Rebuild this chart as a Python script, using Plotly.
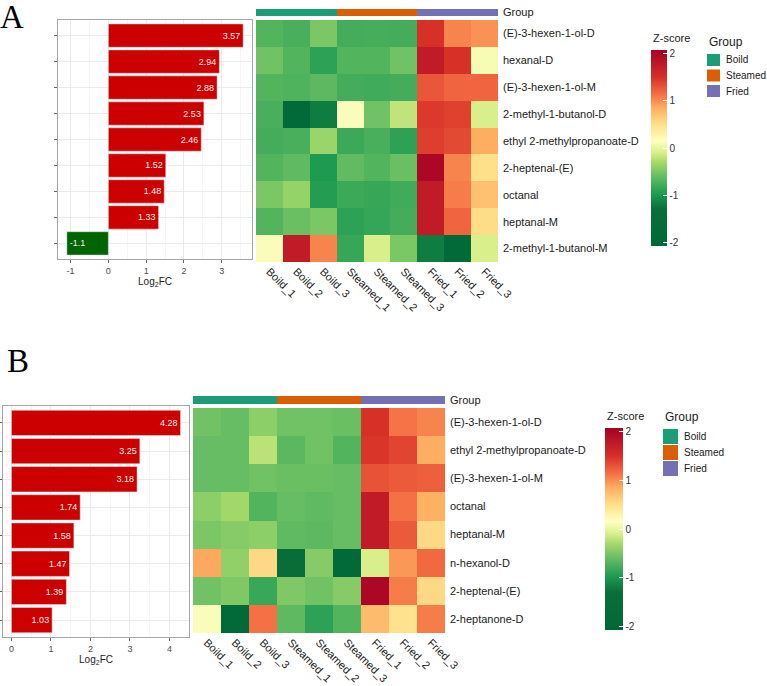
import plotly.graph_objects as go

W, H = 767, 686

samples = ["Boild_1", "Boild_2", "Boild_3", "Steamed_1", "Steamed_2", "Steamed_3",
           "Fried_1", "Fried_2", "Fried_3"]
sample_group = [0, 0, 0, 1, 1, 1, 2, 2, 2]
groups = ["Boild", "Steamed", "Fried"]
z_ticks = [2, 1, 0, -1, -2]

# panel A
compounds_a = ["(E)-3-hexen-1-ol-D", "hexanal-D", "(E)-3-hexen-1-ol-M", "2-methyl-1-butanol-D",
               "ethyl 2-methylpropanoate-D", "2-heptenal-(E)", "octanal", "heptanal-M",
               "2-methyl-1-butanol-M"]
log2fc_a = [3.57, 2.94, 2.88, 2.53, 2.46, 1.52, 1.48, 1.33, -1.1]
fc_ticks_a = [-1, 0, 1, 2, 3]
zscore_a = [
    [-0.70, -0.75, -0.50, -0.78, -0.77, -0.78, 1.50, 1.05, 0.98],
    [-0.55, -0.70, -0.90, -0.70, -0.70, -0.55, 1.75, 1.50, 0.10],
    [-0.70, -0.72, -0.65, -0.78, -0.80, -0.78, 1.28, 1.20, 1.20],
    [-0.75, -1.90, -1.20, 0.12, -0.55, -0.20, 1.45, 1.40, -0.10],
    [-0.78, -0.75, -0.35, -0.82, -0.75, -0.90, 1.42, 1.35, 0.85],
    [-0.70, -0.63, -0.98, -0.62, -0.70, -0.58, 2.00, 1.05, 0.50],
    [-0.50, -0.38, -0.95, -0.82, -0.85, -0.80, 1.75, 1.08, 0.72],
    [-0.70, -0.58, -0.50, -0.90, -0.86, -0.78, 1.75, 1.20, 0.52],
    [0.12, 1.75, 1.05, -0.85, -0.10, -0.50, -1.20, -1.90, -0.10],
]

# panel B
compounds_b = ["(E)-3-hexen-1-ol-D", "ethyl 2-methylpropanoate-D", "(E)-3-hexen-1-ol-M", "octanal",
               "heptanal-M", "n-hexanol-D", "2-heptenal-(E)", "2-heptanone-D"]
log2fc_b = [4.28, 3.25, 3.18, 1.74, 1.58, 1.47, 1.39, 1.03]
fc_ticks_b = [0, 1, 2, 3, 4]
zscore_b = [
    [-0.55, -0.60, -0.42, -0.55, -0.55, -0.58, 1.50, 1.12, 1.05],
    [-0.60, -0.60, -0.22, -0.66, -0.55, -0.70, 1.47, 1.38, 0.85],
    [-0.60, -0.60, -0.55, -0.58, -0.58, -0.60, 1.30, 1.26, 1.23],
    [-0.42, -0.32, -0.70, -0.60, -0.63, -0.60, 1.75, 1.13, 0.83],
    [-0.50, -0.45, -0.42, -0.63, -0.65, -0.60, 1.75, 1.26, 0.55],
    [0.88, -0.40, 0.55, -1.40, -0.45, -1.90, -0.10, 0.95, 1.18],
    [-0.55, -0.48, -0.84, -0.48, -0.55, -0.45, 2.00, 1.08, 0.55],
    [0.12, -1.90, 1.13, -0.64, -0.90, -0.70, 0.75, 0.48, 1.08],
]

group_colors = ["#1B9E77", "#D95F02", "#7570B3"]
ZLIM = 2.08
stops = [(-2.08, "#006837"), (-1.3, "#0a6e3a"), (-1.0, "#1a9850"), (-0.6, "#66bd63"),
         (-0.3, "#a6d96a"), (-0.1, "#d9ef8b"), (0.15, "#ffffbf"), (0.5, "#fee08b"),
         (0.85, "#fdae61"), (1.15, "#f46d43"), (1.5, "#d73027"), (2.08, "#a50026")]
zscale = [[(z + ZLIM) / (2 * ZLIM), c] for z, c in stops]
FONT = "Liberation Sans, Arial, sans-serif"


def px(x):
    return x / W


def py(y):
    return 1 - y / H


fig = go.Figure()
annotations = []
shapes = []


def panel(n, compounds, fc, fc_ticks, zs, bar_box, xr, hm_box, grp_box, cb, leg):
    bx, by, hx, hy, gx, gy = [f"x{n}", f"y{n}", f"x{n+1}", f"y{n+1}", f"x{n+2}", f"y{n+2}"]
    fig.add_trace(go.Bar(
        x=fc, y=compounds, orientation="h", width=0.9,
        marker_color=["#CD0000" if v > 0 else "#006400" for v in fc],
        text=[f"{v:g}" for v in fc], textposition="inside", insidetextanchor="end",
        textfont=dict(size=9, color="#f2f2f2", family=FONT), cliponaxis=False,
        xaxis=bx, yaxis=by, showlegend=False))
    fig.add_trace(go.Heatmap(
        z=zs, x=samples, y=compounds, zmin=-ZLIM, zmax=ZLIM, colorscale=zscale,
        xaxis=hx, yaxis=hy,
        colorbar=dict(x=px(cb[0]), xanchor="left", xpad=0, ypad=0, y=py(cb[1]),
                      yanchor="top", lenmode="pixels", len=cb[2], thickness=cb[3],
                      outlinewidth=0, tickvals=z_ticks, ticktext=[str(t) for t in z_ticks],
                      ticks="inside", ticklen=4, tickcolor="white",
                      tickfont=dict(size=10, color="#333333", family=FONT))))
    fig.add_trace(go.Heatmap(
        z=[sample_group], x=samples, y=["Group"], zmin=0, zmax=2,
        colorscale=[[0, group_colors[0]], [0.33, group_colors[0]], [0.34, group_colors[1]],
                    [0.66, group_colors[1]], [0.67, group_colors[2]], [1, group_colors[2]]],
        showscale=False, xaxis=gx, yaxis=gy))
    nb = len(compounds)
    fig.update_layout({
        f"xaxis{n}": dict(domain=[px(bar_box[0]), px(bar_box[1])], range=xr, anchor=by,
                          automargin=False,
                          showline=True, mirror=True, linecolor="#a6a6a6", linewidth=1,
                          showgrid=True, gridcolor="#ebebeb", zeroline=False,
                          tickvals=fc_ticks, ticktext=[str(t) for t in fc_ticks],
                          minor=dict(dtick=0.5, showgrid=True, gridcolor="#f5f5f5"),
                          ticks="outside", ticklen=3, tickcolor="#666666",
                          tickfont=dict(size=9, color="#4d4d4d", family=FONT),
                          title=dict(text="Log<sub>2</sub>FC", standoff=2,
                                     font=dict(size=10, color="#222222", family=FONT))),
        f"yaxis{n}": dict(domain=[py(bar_box[3]), py(bar_box[2])], anchor=bx,
                          automargin=False,
                          range=[nb - 0.4, -0.6], showline=True, mirror=True,
                          linecolor="#a6a6a6", showgrid=True, gridcolor="#ebebeb",
                          showticklabels=False, ticks="outside", ticklen=3,
                          tickcolor="#666666"),
        f"xaxis{n+1}": dict(domain=[px(hm_box[0]), px(hm_box[1])], anchor=hy,
                            automargin=False,
                            tickangle=45, ticks="", showgrid=False, zeroline=False,
                            tickfont=dict(size=11, color="#1a1a1a", family=FONT)),
        f"yaxis{n+1}": dict(domain=[py(hm_box[3]), py(hm_box[2])], anchor=hx, side="right",
                            automargin=False,
                            autorange="reversed", ticks="", showgrid=False,
                            ticklabelstandoff=4,
                            tickfont=dict(size=11, color="#1a1a1a", family=FONT)),
        f"xaxis{n+2}": dict(domain=[px(hm_box[0]), px(hm_box[1])], anchor=gy,
                            automargin=False,
                            showticklabels=False, ticks="", showgrid=False),
        f"yaxis{n+2}": dict(domain=[py(grp_box[1]), py(grp_box[0])], anchor=gx, side="right",
                            automargin=False,
                            ticks="", showgrid=False, ticklabelstandoff=4,
                            tickfont=dict(size=11, color="#1a1a1a", family=FONT)),
    })
    annotations.append(dict(x=px(cb[0]), y=py(cb[1] - 12), xref="paper", yref="paper",
                            text="Z-score", showarrow=False, xanchor="left", yanchor="middle",
                            font=dict(size=11, color="#1a1a1a", family=FONT)))
    lx, ly, kw, kh, step = leg
    annotations.append(dict(x=px(lx), y=py(ly - 12), xref="paper", yref="paper",
                            text="Group", showarrow=False, xanchor="left", yanchor="middle",
                            font=dict(size=12, color="#1a1a1a", family=FONT)))
    for i, g in enumerate(groups):
        y0 = ly + i * step
        shapes.append(dict(type="rect", xref="paper", yref="paper", x0=px(lx), x1=px(lx + kw),
                           y0=py(y0), y1=py(y0 + kh), fillcolor=group_colors[i],
                           line=dict(width=0)))
        annotations.append(dict(x=px(lx + kw + 4), y=py(y0 + kh / 2), xref="paper",
                                yref="paper", text=g, showarrow=False, xanchor="left",
                                yanchor="middle",
                                font=dict(size=10, color="#1a1a1a", family=FONT)))


panel(1, compounds_a, log2fc_a, fc_ticks_a, zscore_a, (58, 252, 20, 259), [-1.334, 3.804],
      (256, 498, 20, 262), (9, 16), (651, 50, 196, 16), (707, 54, 13, 12, 15.5))
panel(4, compounds_b, log2fc_b, fc_ticks_b, zscore_b, (3, 189, 406, 637), [-0.214, 4.494],
      (193, 445, 408, 633), (396, 404), (605, 428, 202, 18), (663, 429, 15, 15, 16))

annotations.append(dict(x=px(-2), y=py(-3), xref="paper", yref="paper", text="A",
                        showarrow=False, xanchor="left", yanchor="top",
                        font=dict(size=33, color="black", family="Liberation Serif, serif")))
annotations.append(dict(x=px(5), y=py(341), xref="paper", yref="paper", text="B",
                        showarrow=False, xanchor="left", yanchor="top",
                        font=dict(size=33, color="black", family="Liberation Serif, serif")))

fig.update_layout(width=W, height=H, margin=dict(l=0, r=0, t=0, b=0), autosize=False,
                  paper_bgcolor="white", plot_bgcolor="white",
                  annotations=annotations, shapes=shapes,
                  font=dict(family=FONT), barmode="overlay")
fig.write_html("out.html", config={"displayModeBar": False, "responsive": False},
               default_width=f"{W}px", default_height=f"{H}px",
               post_script="document.body.style.margin='0';"
                           "document.body.style.overflow='hidden';"
                           "document.documentElement.style.overflow='hidden';")
